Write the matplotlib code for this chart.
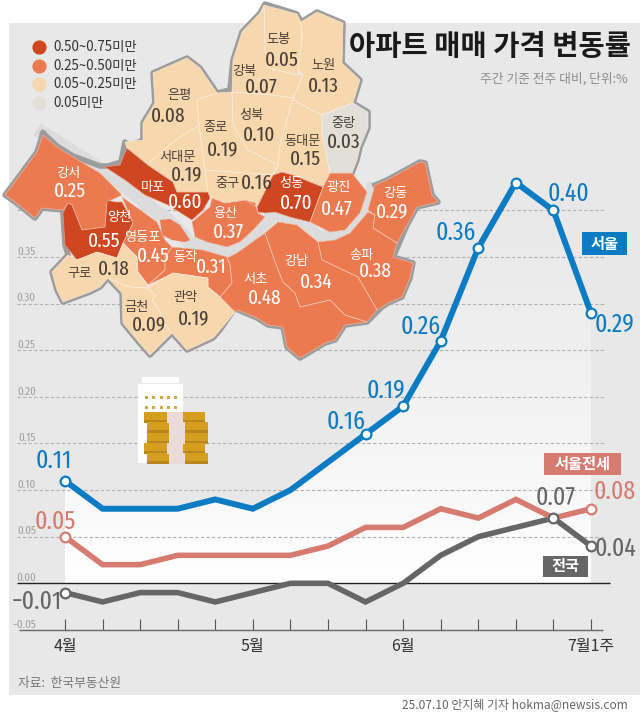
import matplotlib
matplotlib.use('Agg')
import matplotlib.pyplot as plt
from matplotlib.patches import Polygon, Rectangle
import numpy as np

KR = 'Noto Sans CJK KR'
NARROW = ['Fira Sans Extra Condensed', 'Barlow Condensed', 'Liberation Sans', KR]
plt.rcParams['font.family'] = [KR, 'DejaVu Sans']
plt.rcParams['axes.unicode_minus'] = True

# chart data
weeks = list(range(15))
week_labels = ['4월', '', '', '', '', '5월', '', '', '', '6월', '', '', '', '', '7월1주']
seoul = [0.11, 0.08, 0.08, 0.08, 0.09, 0.08, 0.10, 0.13, 0.16, 0.19, 0.26, 0.36, 0.43, 0.40, 0.29]
jeonse = [0.05, 0.02, 0.02, 0.03, 0.03, 0.03, 0.03, 0.04, 0.06, 0.06, 0.08, 0.07, 0.09, 0.07, 0.08]
nation = [-0.01, -0.02, -0.01, -0.01, -0.02, -0.01, 0.00, 0.00, -0.02, 0.00, 0.03, 0.05, 0.06, 0.07, 0.04]
y_ticks = [-0.05, 0.00, 0.05, 0.10, 0.15, 0.20, 0.25, 0.30, 0.35, 0.40]

# map data
districts = ['도봉', '강북', '노원', '은평', '종로', '성북', '동대문', '중랑', '서대문', '중구', '마포', '성동', '광진',
             '강동', '용산', '강서', '양천', '영등포', '동작', '구로', '금천', '관악', '서초', '강남', '송파']
changes = [0.05, 0.07, 0.13, 0.08, 0.19, 0.10, 0.15, 0.03, 0.19, 0.16, 0.60, 0.70, 0.47,
           0.29, 0.37, 0.25, 0.55, 0.45, 0.31, 0.18, 0.09, 0.19, 0.48, 0.34, 0.38]
legend_labels = ['0.50~0.75미만', '0.25~0.50미만', '0.05~0.25미만', '0.05미만']

BLUE = '#0b7cc4'
PINK = '#d67b70'
DARK = '#666666'
BG = '#e8e8e8'
bin_colors = ['#cf4720', '#ec7a50', '#f7d7ae', '#e2dfd8']


def bin_index(v):
    if v >= 0.5:
        return 0
    if v >= 0.25:
        return 1
    if v >= 0.05:
        return 2
    return 3


# district outlines and label spots, traced in image pixels
shapes = {
    '도봉': [(264, 5), (297, 14), (301, 22), (302, 40), (298, 70), (298, 75), (268, 68), (265, 50)],
    '강북': [(232, 92), (233, 60), (242, 32), (260, 13), (264, 5), (265, 50), (268, 68), (298, 75), (303, 75), (293, 98), (272, 95)],
    '노원': [(301, 22), (317, 12), (343, 23), (342, 63), (360, 80), (353, 103), (322, 115), (298, 103), (293, 98), (303, 75), (298, 70), (302, 40)],
    '은평': [(125, 142), (143, 140), (143, 123), (155, 103), (153, 73), (187, 58), (200, 68), (217, 93), (197, 100), (199, 125), (173, 142), (152, 160), (148, 165), (127, 148)],
    '종로': [(197, 100), (217, 93), (232, 92), (233, 125), (248, 150), (278, 165), (273, 175), (205, 170), (199, 125)],
    '성북': [(232, 92), (272, 95), (293, 98), (280, 145), (278, 165), (248, 150), (233, 125)],
    '동대문': [(293, 98), (298, 103), (322, 115), (322, 133), (330, 173), (323, 187), (293, 175), (282, 172), (273, 175), (278, 165), (280, 145)],
    '중랑': [(322, 115), (353, 103), (368, 112), (368, 128), (360, 147), (357, 160), (352, 173), (330, 173), (322, 133)],
    '서대문': [(152, 160), (173, 142), (199, 125), (205, 170), (208, 192), (177, 192), (173, 182), (148, 165)],
    '중구': [(205, 170), (273, 175), (257, 207), (245, 200), (225, 203), (212, 198), (208, 192)],
    '마포': [(105, 167), (120, 165), (127, 148), (148, 165), (173, 182), (177, 192), (208, 192), (210, 198), (203, 210), (192, 220), (168, 205), (145, 195), (125, 180)],
    '성동': [(258, 212), (257, 207), (273, 175), (282, 172), (293, 175), (323, 187), (310, 222), (290, 217), (275, 212), (265, 213)],
    '광진': [(330, 173), (352, 173), (367, 192), (360, 213), (345, 230), (330, 232), (310, 222), (323, 187)],
    '강동': [(375, 185), (387, 180), (420, 162), (425, 163), (432, 195), (438, 202), (417, 207), (407, 225), (397, 243), (373, 228), (375, 215), (368, 210)],
    '용산': [(192, 222), (210, 207), (212, 198), (225, 203), (245, 200), (255, 203), (258, 213), (265, 217), (253, 230), (240, 242), (227, 247), (207, 242), (195, 237)],
    '강서': [(43, 135), (57, 147), (73, 157), (100, 173), (122, 195), (107, 202), (105, 227), (82, 230), (72, 205), (68, 203), (63, 210), (42, 208), (35, 218), (15, 202), (5, 195), (20, 175), (37, 152)],
    '양천': [(107, 200), (115, 202), (122, 202), (133, 223), (123, 243), (117, 258), (97, 252), (77, 260), (65, 245), (63, 213), (68, 203), (72, 205), (82, 230), (105, 227)],
    '영등포': [(122, 197), (143, 212), (157, 222), (165, 240), (172, 247), (165, 257), (165, 270), (148, 285), (138, 272), (137, 257), (123, 243), (133, 223)],
    '동작': [(172, 247), (203, 250), (227, 257), (230, 265), (232, 283), (220, 297), (208, 287), (208, 278), (173, 273), (148, 285), (165, 270), (165, 257)],
    '구로': [(68, 255), (77, 260), (97, 252), (117, 258), (123, 243), (137, 257), (138, 272), (148, 285), (147, 288), (130, 287), (120, 283), (108, 278), (100, 287), (90, 292), (63, 302), (57, 290), (52, 272)],
    '금천': [(108, 278), (120, 283), (130, 287), (147, 288), (155, 295), (152, 300), (160, 312), (165, 325), (172, 333), (150, 355), (137, 340), (123, 323), (122, 293)],
    '관악': [(147, 288), (173, 273), (208, 278), (208, 287), (220, 297), (235, 312), (220, 330), (213, 338), (187, 350), (172, 333), (165, 325), (160, 312), (152, 300), (155, 295)],
    '서초': [(227, 258), (237, 253), (265, 233), (275, 262), (283, 282), (295, 293), (300, 307), (330, 300), (345, 315), (367, 322), (345, 325), (335, 340), (325, 343), (300, 358), (287, 347), (283, 327), (268, 325), (257, 318), (238, 310), (235, 312), (220, 297), (232, 283), (230, 265)],
    '강남': [(265, 233), (278, 222), (297, 225), (318, 242), (322, 260), (358, 277), (377, 310), (367, 322), (345, 315), (330, 300), (300, 307), (295, 293), (283, 282), (275, 262)],
    '송파': [(318, 242), (335, 240), (350, 233), (368, 212), (375, 215), (373, 228), (397, 243), (393, 257), (413, 263), (410, 278), (402, 297), (388, 303), (382, 307), (377, 310), (358, 277), (322, 260)],
}
island = [(160, 220), (170, 219), (180, 225), (190, 240), (185, 242), (172, 240), (162, 235)]
north_edge = [(43, 133), (57, 146), (73, 156), (100, 166), (108, 166), (121, 162), (125, 142), (130, 146), (143, 140), (143, 123),
              (155, 103), (153, 73), (187, 58), (200, 68), (217, 93), (230, 90), (233, 60), (242, 32), (260, 13), (265, 4), (297, 14),
              (301, 22), (317, 12), (343, 23), (342, 63), (360, 80), (353, 103), (368, 112), (368, 128), (360, 147), (357, 160), (352, 173)]
south_edge = [(375, 185), (387, 180), (420, 162), (425, 163), (432, 195), (438, 202), (417, 207), (407, 225), (395, 253), (393, 257),
              (413, 263), (410, 278), (402, 297), (388, 303), (382, 307), (367, 322), (345, 325), (335, 340), (325, 343), (300, 358),
              (287, 347), (283, 327), (268, 325), (257, 318), (238, 310), (235, 308), (220, 330), (213, 338), (187, 350), (172, 333),
              (150, 355), (137, 340), (123, 323), (122, 293), (108, 278), (100, 287), (90, 292), (63, 302), (57, 290), (52, 272),
              (68, 255), (65, 245), (63, 213), (68, 203), (63, 210), (42, 208), (35, 218), (15, 202), (5, 195), (20, 175), (37, 152), (43, 133)]
river = [(43, 133), (100, 169), (125, 186), (145, 203), (170, 222), (190, 243), (225, 254), (245, 243), (262, 225), (275, 213), (298, 222),
         (320, 238), (345, 235), (362, 215), (372, 190)]
name_pos = {'도봉': (278, 40), '강북': (244, 71), '노원': (323, 66), '은평': (179, 95), '종로': (215, 128), '성북': (251, 115),
            '동대문': (303, 142), '중랑': (344, 123), '서대문': (178, 157), '중구': (227, 183), '마포': (153, 187), '성동': (291, 183),
            '광진': (339, 188), '강동': (395, 193), '용산': (226, 213), '강서': (68, 173), '양천': (119, 218), '영등포': (142, 237),
            '동작': (185, 257), '구로': (80, 273), '금천': (136, 307), '관악': (186, 297), '서초': (255, 280), '강남': (296, 262), '송파': (361, 255)}
value_pos = {'도봉': (282, 60), '강북': (261, 87), '노원': (323, 86), '은평': (168, 116), '종로': (223, 150), '성북': (259, 135),
             '동대문': (305, 159), '중랑': (344, 142), '서대문': (187, 175), '중구': (257, 183), '마포': (185, 202), '성동': (296, 203),
             '광진': (337, 209), '강동': (392, 212), '용산': (228, 232), '강서': (70, 191), '양천': (104, 241), '영등포': (153, 256),
             '동작': (211, 267), '구로': (114, 269), '금천': (149, 325), '관악': (194, 319), '서초': (265, 298), '강남': (316, 282), '송파': (375, 271)}

fig = plt.figure(figsize=(6.4, 7.15), dpi=100)

# backdrop
bg = fig.add_axes([0, 0, 1, 1], zorder=0)
bg.set_xlim(0, 640)
bg.set_ylim(715, 0)
bg.axis('off')
bg.add_patch(Rectangle((9, 23), 631, 672, fc=BG, ec='none'))

# line chart, axes box placed so 4월=65px, 7월1주=591px, 0.00=583px
y_per = 46.6 / 0.05
top, bottom = 0.40, -0.05
ax = fig.add_axes([65 / 640, (715 - (583.3 - bottom * y_per)) / 715, 526 / 640, (top - bottom) * y_per / 715], zorder=1)
ax.patch.set_alpha(0)
for s in ['left', 'right', 'top', 'bottom']:
    ax.spines[s].set_visible(False)

area = ax.fill_between(weeks, 0, seoul, color='none')
fade = np.ones((200, 2, 4))
fade[:, :, 3] = np.linspace(0, 1, 200)[:, None] ** 1.3
im = ax.imshow(fade, extent=[0, 14, 0, 0.43], aspect='auto', zorder=1)
im.set_clip_path(area.get_paths()[0], transform=ax.transData)
ax.set_xlim(0, 14)
ax.set_ylim(bottom, top)

ax.hlines([t for t in y_ticks if t > 0], -1.28, 14.35, colors='#b0b0b0', linestyles=(0, (3, 2)), linewidth=0.8, clip_on=False, zorder=2)
ax.hlines(0, -1.28, 14.5, colors='#222222', linewidth=1.0, clip_on=False, zorder=2)
ax.hlines(bottom, -1.22, 14.32, colors='#666666', linewidth=1.0, clip_on=False, zorder=2)

ax.set_xticks(weeks)
ax.set_xticklabels(week_labels, fontsize=11.5, color='#333333')
ax.tick_params(axis='x', direction='in', length=8, width=0.8, color='#555555', pad=6)
ax.set_yticks(y_ticks)
ax.set_yticklabels(['%.2f' % t if t >= 0 else '−%.2f' % -t for t in y_ticks], fontsize=8.5, color='#a0a0a0', family=NARROW, va='bottom')
ax.tick_params(axis='y', length=0, pad=21)

mark = dict(marker='o', mfc='white', ms=7, mew=1.6, ls='none', zorder=6, clip_on=False)
line = dict(solid_joinstyle='miter', solid_capstyle='butt', clip_on=False)
ax.plot(weeks, nation, color=DARK, lw=4.0, zorder=3, **line)
ax.plot(weeks, jeonse, color=PINK, lw=4.0, zorder=3.5, **line)
ax.plot(weeks, seoul, color=BLUE, lw=4.3, zorder=4, **line)
seoul_marks = [0, 8, 9, 10, 11, 12, 13, 14]
jeonse_marks = [0, 14]
nation_marks = [0, 13, 14]
ax.plot(seoul_marks, [seoul[i] for i in seoul_marks], mec=BLUE, **mark)
ax.plot(jeonse_marks, [jeonse[i] for i in jeonse_marks], mec=PINK, **mark)
ax.plot(nation_marks, [nation[i] for i in nation_marks], mec=DARK, **mark)

# value labels, offsets in pixels from their points
lab = dict(textcoords='offset points', ha='center', va='center', fontsize=18.5, family=NARROW, zorder=7)
seoul_off = {0: (-11, -20), 8: (-19, -12), 9: (-17, -15), 10: (-20, -14), 11: (-22, -15), 12: (5, -19), 13: (15, -17), 14: (23, 12)}
for i, (dx, dy) in seoul_off.items():
    ax.annotate('%.2f' % seoul[i], (i, seoul[i]), xytext=(dx * 0.72, -dy * 0.72), color=BLUE, **lab)
ax.annotate('%.2f' % jeonse[0], (0, jeonse[0]), xytext=(-10 * 0.72, 15 * 0.72), color=PINK, **lab)
ax.annotate('%.2f' % jeonse[14], (14, jeonse[14]), xytext=(24 * 0.72, 17 * 0.72), color=PINK, **lab)
ax.annotate('−%.2f' % -nation[0], (0, nation[0]), xytext=(-28 * 0.72, -9 * 0.72), color=DARK, **lab)
ax.annotate('%.2f' % nation[13], (13, nation[13]), xytext=(2 * 0.72, 20 * 0.72), color=DARK, **lab)
ax.annotate('%.2f' % nation[14], (14, nation[14]), xytext=(25 * 0.72, -3 * 0.72), color=DARK, **lab)

# map and decorations in pixel coordinates
m = fig.add_axes([0, 0, 1, 1], zorder=2)
m.set_xlim(0, 640)
m.set_ylim(715, 0)
m.axis('off')
m.patch.set_alpha(0)

m.plot(*zip(*river), color='#dcdcdc', lw=10, solid_joinstyle='round', zorder=1)
m.plot(*zip(*north_edge), color='#9c9c9c', lw=4.0, solid_joinstyle='round', zorder=1.5)
m.plot(*zip(*south_edge), color='#9c9c9c', lw=4.0, solid_joinstyle='round', zorder=1.5)

for name, value in zip(districts, changes):
    c = bin_colors[bin_index(value)]
    m.add_patch(Polygon(shapes[name], closed=True, fc=c, ec=c, lw=0.3, zorder=2))
for name, value in zip(districts, changes):
    m.add_patch(Polygon(shapes[name], closed=True, fc='none', ec=(1, 1, 1, 0.4), lw=0.5, zorder=2.5))
m.add_patch(Polygon(island, closed=True, fc=bin_colors[1], ec='none', zorder=2))

for name, value in zip(districts, changes):
    tc = 'white' if bin_index(value) < 2 else '#4a3f35'
    m.text(*name_pos[name], name, ha='center', va='center', fontsize=9.5, color=tc, zorder=3)
    m.text(*value_pos[name], '%.2f' % value, ha='center', va='center', fontsize=15, color=tc, family=NARROW, zorder=3)

# legend
for i, (leg, c) in enumerate(zip(legend_labels, bin_colors)):
    y = 47 + i * 18.7
    m.scatter([39], [y], s=85, color=c, zorder=3)
    m.text(53, y, leg, ha='left', va='center', fontsize=9.6, color='#333333', zorder=3)

# title block
m.text(349, 47, '아파트 매매 가격 변동률', ha='left', va='center', fontsize=20.5, fontweight='bold', color='#1a1a1a', zorder=3)
m.text(628, 79, '주간 기준 전주 대비, 단위:%', ha='right', va='center', fontsize=9.2, color='#8c8c8c', zorder=3)

# series tags
for x0, y0, w, h, c, tag in [(582, 232, 45, 23, BLUE, '서울'), (544, 453, 77, 22, PINK, '서울전세'), (543, 556, 45, 21, DARK, '전국')]:
    m.add_patch(Rectangle((x0, y0), w, h, fc=c, ec='none', zorder=3))
    m.text(x0 + w / 2, y0 + h / 2, tag, ha='center', va='center', fontsize=11, fontweight='bold', color='white', zorder=4)

# building and cash icon
m.add_patch(Rectangle((142, 377), 37, 6, fc='white', ec='none', zorder=3))
m.add_patch(Rectangle((138, 384), 45, 79, fc='white', ec='none', zorder=3))
for wy in [397, 407]:
    for wx in [146, 153, 161, 168, 175]:
        m.add_patch(Rectangle((wx - 1.5, wy - 1.5), 3, 3, fc='#c9a94b', ec='none', zorder=4))
for sx, sy, band in [(144, 412, 167), (147, 422, 169), (147, 433, 169), (144, 443, 167), (147, 453, 169)]:
    m.add_patch(Rectangle((sx, sy), 61, 10.5, fc='#d69e1e', ec='none', zorder=4))
    m.add_patch(Rectangle((sx, sy + 8), 61, 2.5, fc='#b8861b', ec='none', zorder=4))
    m.add_patch(Rectangle((band, sy), 16, 10.5, fc='#eadbd8', ec='none', zorder=5))

# footer
m.text(18, 684, '자료:  한국부동산원', ha='left', va='center', fontsize=9.2, color='#777777', zorder=3)
m.text(628, 705, '25.07.10 안지혜 기자 hokma@newsis.com', ha='right', va='center', fontsize=8.6, color='#666666', zorder=3)

fig.savefig('out.png', dpi=100)
